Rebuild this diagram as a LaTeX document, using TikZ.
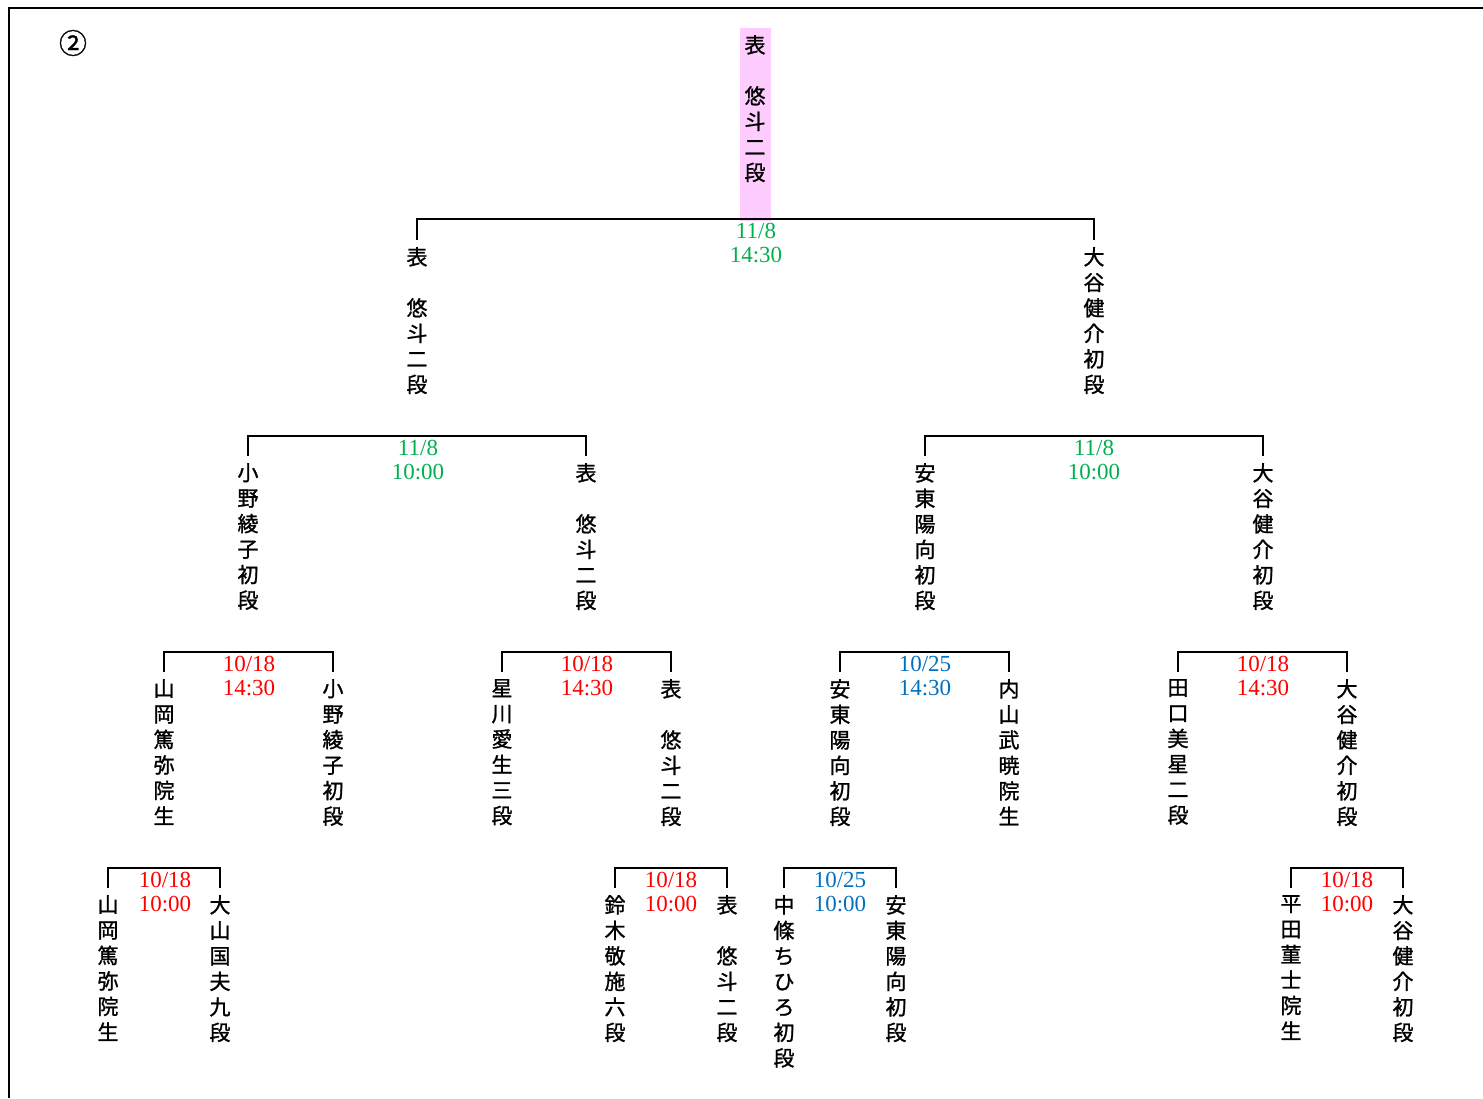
\documentclass[tikz,border=0pt]{standalone}
\usepackage{fontspec}
\setmainfont{Liberation Serif}
\newfontfamily\jpfont[FakeBold=1.2]{Noto Sans CJK JP}
\usepackage{xcolor}
\usetikzlibrary{positioning}

\definecolor{rootpink}{HTML}{FFCCFF}
\definecolor{dgreen}{HTML}{00B050}
\definecolor{dred}{HTML}{FF0000}
\definecolor{dblue}{HTML}{0070C0}

\tikzset{
  player/.style={anchor=north, align=center, inner xsep=0pt, inner ysep=7pt,
    font=\jpfont\fontsize{21}{25.5}\selectfont},
  date/.style={align=center, inner sep=0pt, font=\fontsize{23}{24}\selectfont},
  bracket/.style={line width=1.6pt},
}

\begin{document}
\begin{tikzpicture}[x=1pt,y=-1pt]
                \useasboundingbox (0,0) rectangle (1483,1098);
                \draw [line width=2pt] (9,1098) -- (9,8) -- (1483,8);
                \node (num) at (73,43) {\jpfont\fontsize{28}{28}\selectfont ②};
                % final
                \node [player, fill=rootpink, inner xsep=5pt, minimum height=188pt] (champ) at (755,28) {表\\~\\悠\\斗\\二\\段\\[8pt]~};
                \coordinate (m1) at (756,219);
                \node [date, text=dgreen, below=4pt of m1] (d1) {11/8\\14:30};
                \node [player] (sa) at (417,240) {表\\~\\悠\\斗\\二\\段};
                \node [player] (sb) at (1094,240) {大\\谷\\健\\介\\初\\段};
                \draw [bracket] (sa.north) |- (m1) -| (sb.north);
                % semifinals
                \coordinate (m2) at (418,436);
                \node [date, text=dgreen, below=4pt of m2] (d2) {11/8\\10:00};
                \coordinate (m3) at (1094,436);
                \node [date, text=dgreen, below=4pt of m3] (d3) {11/8\\10:00};
                \node [player] (qa) at (248,456) {小\\野\\綾\\子\\初\\段};
                \node [player] (qb) at (586,456) {表\\~\\悠\\斗\\二\\段};
                \node [player] (qc) at (925,456) {安\\東\\陽\\向\\初\\段};
                \node [player] (qd) at (1263,456) {大\\谷\\健\\介\\初\\段};
                \draw [bracket] (qa.north) |- (m2) -| (qb.north);
                \draw [bracket] (qc.north) |- (m3) -| (qd.north);
                % third round
                \coordinate (m4) at (249,652);
                \node [date, text=dred, below=4pt of m4] (d4) {10/18\\14:30};
                \coordinate (m5) at (587,652);
                \node [date, text=dred, below=4pt of m5] (d5) {10/18\\14:30};
                \coordinate (m6) at (925,652);
                \node [date, text=dblue, below=4pt of m6] (d6) {10/25\\14:30};
                \coordinate (m7) at (1263,652);
                \node [date, text=dred, below=4pt of m7] (d7) {10/18\\14:30};
                \node [player] (ta) at (164,672) {山\\岡\\篤\\弥\\院\\生};
                \node [player] (tb) at (333,672) {小\\野\\綾\\子\\初\\段};
                \node [player] (tc) at (502,672) {星\\川\\愛\\生\\三\\段};
                \node [player] (td) at (671,672) {表\\~\\悠\\斗\\二\\段};
                \node [player] (te) at (840,672) {安\\東\\陽\\向\\初\\段};
                \node [player] (tf) at (1009,672) {内\\山\\武\\暁\\院\\生};
                \node [player] (tg) at (1178,672) {田\\口\\美\\星\\二\\段};
                \node [player] (th) at (1347,672) {大\\谷\\健\\介\\初\\段};
                \draw [bracket] (ta.north) |- (m4) -| (tb.north);
                \draw [bracket] (tc.north) |- (m5) -| (td.north);
                \draw [bracket] (te.north) |- (m6) -| (tf.north);
                \draw [bracket] (tg.north) |- (m7) -| (th.north);
                % first round
                \coordinate (m8) at (165,868);
                \node [date, text=dred, below=4pt of m8] (d8) {10/18\\10:00};
                \coordinate (m9) at (671,868);
                \node [date, text=dred, below=4pt of m9] (d9) {10/18\\10:00};
                \coordinate (m10) at (840,868);
                \node [date, text=dblue, below=4pt of m10] (d10) {10/25\\10:00};
                \coordinate (m11) at (1347,868);
                \node [date, text=dred, below=4pt of m11] (d11) {10/18\\10:00};
                \node [player] (fa) at (108,888) {山\\岡\\篤\\弥\\院\\生};
                \node [player] (fb) at (220,888) {大\\山\\国\\夫\\九\\段};
                \node [player] (fc) at (615,888) {鈴\\木\\敬\\施\\六\\段};
                \node [player] (fd) at (727,888) {表\\~\\悠\\斗\\二\\段};
                \node [player] (fe) at (784,888) {中\\條\\ち\\ひ\\ろ\\初\\段};
                \node [player] (ff) at (896,888) {安\\東\\陽\\向\\初\\段};
                \node [player] (fg) at (1291,888) {平\\田\\菫\\士\\院\\生};
                \node [player] (fh) at (1403,888) {大\\谷\\健\\介\\初\\段};
                \draw [bracket] (fa.north) |- (m8) -| (fb.north);
                \draw [bracket] (fc.north) |- (m9) -| (fd.north);
                \draw [bracket] (fe.north) |- (m10) -| (ff.north);
                \draw [bracket] (fg.north) |- (m11) -| (fh.north);
\end{tikzpicture}
\end{document}
